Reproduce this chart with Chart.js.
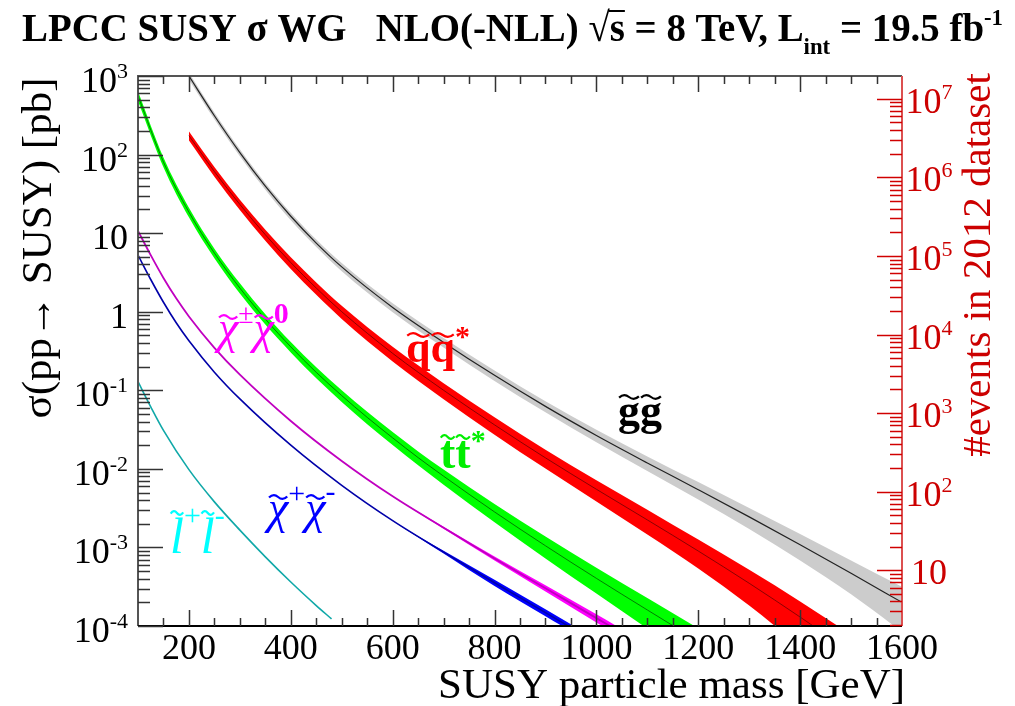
<!DOCTYPE html>
<html>
<head>
<meta charset="utf-8">
<script src="https://cdn.jsdelivr.net/npm/chart.js@4.4.1/dist/chart.umd.min.js"></script>
<style>
  html, body { margin: 0; padding: 0; background: #fff; }
  canvas { display: block; }
</style>
</head>
<body>
<canvas id="c" width="1015" height="706"></canvas>
<script>
// integrated luminosity, pb^-1 (19.5 fb^-1) -> right axis = sigma * LUMI
const LUMI = 19500;

// gluino pair (g~g~), grey band; unc = band half-width in %
const massGluino = [200, 250, 300, 350, 400, 450, 500, 600, 700, 800, 900, 1000, 1100, 1200, 1300, 1400, 1500, 1600];
const xsecGluino = [1000, 312, 106, 39.6, 16.4, 7.48, 3.72, 1.135, 0.407, 0.155, 0.0624, 0.0266, 0.0119, 0.00543, 0.00245, 0.00108, 0.000468, 0.0002];
const uncGluino  = [10, 10, 10, 10, 11, 11, 12, 13, 14, 15, 16, 18, 21, 25, 30, 37, 46, 58];

// squark-antisquark (q~q~*), red band
const massSquark = [200, 250, 300, 350, 400, 450, 500, 600, 700, 800, 900, 1000, 1100, 1200, 1300, 1400, 1450, 1500];
const xsecSquark = [174, 60.8, 23.2, 9.55, 4.22, 2.0, 1.0, 0.295, 0.1, 0.0363, 0.0138, 0.0055, 0.00224, 0.0009, 0.00035, 0.00013, 0.000078, 0.000047];
const uncSquark  = [13, 14, 15, 16, 17, 18, 19, 21, 23, 25, 27, 30, 35, 40, 48, 58, 62, 66];

// stop pair (t~t~*), green band
const massStop = [100, 150, 200, 250, 300, 350, 400, 450, 500, 550, 600, 650, 700, 800, 900, 1000, 1100, 1200];
const xsecStop = [560, 80.3, 18.5, 5.57, 2.0, 0.807, 0.357, 0.169, 0.0856, 0.0452, 0.0248, 0.0139, 0.00807, 0.00283, 0.00105, 0.000404, 0.00016, 0.000064];
const uncStop  = [14, 14, 14, 14, 15, 15, 15, 16, 17, 18, 19, 20, 22, 26, 31, 36, 42, 46];

// chargino-neutralino (chi+-chi0), magenta
const massC1N2 = [100, 125, 150, 175, 200, 250, 300, 400, 500, 600, 700, 800, 900, 1000, 1050];
const xsecC1N2 = [10.7, 5.25, 2.69, 1.48, 0.871, 0.347, 0.158, 0.0407, 0.0126, 0.00447, 0.00178, 0.000724, 0.000302, 0.000126, 0.0000813];
const uncC1N2  = [0, 0, 0, 0, 0, 0, 0, 0, 0, 0, 3, 6, 9, 12, 12];

// chargino pair (chi+chi-), blue
const massC1C1 = [100, 125, 150, 175, 200, 250, 300, 400, 500, 600, 700, 800, 900, 950];
const xsecC1C1 = [5.25, 2.57, 1.32, 0.724, 0.427, 0.17, 0.0776, 0.02, 0.00617, 0.00219, 0.000871, 0.000355, 0.000148, 0.0000955];
const uncC1C1  = [0, 0, 0, 0, 0, 0, 0, 0, 0, 0, 4, 9, 10, 10];

// slepton pair (l~+l~-), teal
const massSlep = [100, 125, 150, 200, 250, 300, 350, 400, 450, 480];
const xsecSlep = [0.129, 0.0617, 0.0309, 0.00977, 0.0038, 0.00166, 0.000759, 0.000363, 0.000182, 0.000123];

const xTicks = [200, 400, 600, 800, 1000, 1200, 1400, 1600];
const yDecades = [-4, -3, -2, -1, 0, 1, 2, 3];
const evDecades = [1, 2, 3, 4, 5, 6, 7];

const SERIF = '"Liberation Serif", "Times New Roman", serif';

function pts(m, v) { return m.map((x, i) => ({ x: x, y: v[i] })); }
function band(m, v, u, s) { return m.map((x, i) => ({ x: x, y: v[i] * (1 + s * u[i] / 100) })); }

function bandSets(m, v, u, color, order) {
  return [
    { data: band(m, v, u, -1), borderWidth: 0, pointRadius: 0, fill: false, order: order, cubicInterpolationMode: 'monotone' },
    { data: band(m, v, u, 1), borderWidth: 0, pointRadius: 0, fill: '-1', backgroundColor: color, order: order, cubicInterpolationMode: 'monotone' }
  ];
}
function lineSet(m, v, color, w, order) {
  return { data: pts(m, v), borderColor: color, borderWidth: w, pointRadius: 0, fill: false, order: order, cubicInterpolationMode: 'monotone' };
}

const datasets = [
  ...bandSets(massGluino, xsecGluino, uncGluino, '#cccccc', 20),
  ...bandSets(massSquark, xsecSquark, uncSquark, '#ff0000', 19),
  ...bandSets(massStop, xsecStop, uncStop, '#00ff00', 18),
  ...bandSets(massC1N2, xsecC1N2, uncC1N2, '#ff00ff', 17),
  ...bandSets(massC1C1, xsecC1C1, uncC1C1, '#0000ff', 16),
  lineSet(massGluino, xsecGluino, '#222222', 1.2, 10),
  lineSet(massSquark, xsecSquark, 'rgba(90,0,0,0.7)', 1, 9),
  lineSet(massStop, xsecStop, 'rgba(0,70,0,0.7)', 1, 8),
  lineSet(massC1N2, xsecC1N2, '#c000c0', 1.8, 7),
  lineSet(massC1C1, xsecC1C1, '#0000a8', 1.6, 6),
  lineSet(massSlep, xsecSlep, '#10a8a8', 1.6, 5)
];

// draw text made of pieces {t, f, dy, tilde, over}
function tilde(ctx, x0, x1, y, lw) {
  const w = x1 - x0, a = Math.max(2, w * 0.09);
  ctx.save();
  ctx.lineWidth = lw;
  ctx.strokeStyle = ctx.fillStyle;
  ctx.beginPath();
  ctx.moveTo(x0, y + a * 0.3);
  ctx.quadraticCurveTo(x0 + w * 0.25, y - 2 * a, x0 + w * 0.5, y);
  ctx.quadraticCurveTo(x0 + w * 0.75, y + 2 * a, x1, y - a * 0.3);
  ctx.stroke();
  ctx.restore();
}
function rich(ctx, parts, x, y, align) {
  let w = 0;
  parts.forEach(p => { ctx.font = p.f; w += ctx.measureText(p.t).width; });
  let cx = align === 'right' ? x - w : align === 'center' ? x - w / 2 : x;
  parts.forEach(p => {
    ctx.font = p.f;
    const m = ctx.measureText(p.t);
    const by = y + (p.dy || 0);
    ctx.fillText(p.t, cx, by);
    if (p.tilde) tilde(ctx, cx + m.width * 0.05, cx + m.width * 0.95, by - m.actualBoundingBoxAscent - p.tilde, 2.2);
    if (p.over) {
      ctx.save(); ctx.lineWidth = 2; ctx.strokeStyle = ctx.fillStyle;
      ctx.beginPath(); ctx.moveTo(cx - 1, by - p.over); ctx.lineTo(cx + m.width, by - p.over); ctx.stroke();
      ctx.restore();
    }
    cx += m.width;
  });
  return w;
}
function decadeParts(e, big, small) {
  if (e === 0) return [{ t: '1', f: big }];
  if (e === 1) return [{ t: '10', f: big }];
  return [{ t: '10', f: big }, { t: String(e), f: small, dy: -14 }];
}

const frame = {
  id: 'frame',
  afterDatasetsDraw(chart) {
    const ctx = chart.ctx;
    const a = chart.chartArea;
    const xs = chart.scales.x, ys = chart.scales.y, ev = chart.scales.y2;
    ctx.save();
    ctx.textBaseline = 'alphabetic';

    // frame
    ctx.lineWidth = 2;
    ctx.strokeStyle = '#555';
    ctx.beginPath();
    ctx.moveTo(a.right, a.top); ctx.lineTo(a.left, a.top); ctx.lineTo(a.left, a.bottom);
    ctx.stroke();
    ctx.strokeStyle = '#000';
    ctx.beginPath(); ctx.moveTo(a.left, a.bottom); ctx.lineTo(a.right, a.bottom); ctx.stroke();

    // x ticks (bottom and top, inward)
    ctx.lineWidth = 1.5;
    ctx.strokeStyle = '#333';
    for (let m = 150; m < 1600; m += 50) {
      const px = Math.round(xs.getPixelForValue(m)) + 0.5;
      const len = m % 200 === 0 ? 16 : 8;
      ctx.beginPath();
      ctx.moveTo(px, a.bottom); ctx.lineTo(px, a.bottom - len);
      ctx.moveTo(px, a.top); ctx.lineTo(px, a.top + len);
      ctx.stroke();
    }
    // left y ticks
    for (let e = -4; e <= 3; e++) {
      for (let k = 1; k <= 9; k++) {
        if (e === 3 && k > 1) break;
        const py = Math.round(ys.getPixelForValue(k * Math.pow(10, e))) + 0.5;
        const len = k === 1 ? 25 : 12;
        ctx.beginPath(); ctx.moveTo(a.left, py); ctx.lineTo(a.left + len, py); ctx.stroke();
      }
    }
    // right axis (events)
    ctx.strokeStyle = 'rgb(220,80,80)';
    ctx.lineWidth = 2;
    ctx.beginPath(); ctx.moveTo(a.right, a.top); ctx.lineTo(a.right, a.bottom); ctx.stroke();
    ctx.lineWidth = 1.5;
    ctx.strokeStyle = '#d00000';
    for (let e = 0; e <= 7; e++) {
      for (let k = 1; k <= 9; k++) {
        const val = k * Math.pow(10, e);
        if (val < ev.min || val > ev.max) continue;
        const py = Math.round(ev.getPixelForValue(val)) + 0.5;
        const len = k === 1 ? 25 : 12;
        ctx.beginPath(); ctx.moveTo(a.right, py); ctx.lineTo(a.right - len, py); ctx.stroke();
      }
    }

    // tick labels
    const big = '36px ' + SERIF, small = '22px ' + SERIF;
    ctx.fillStyle = '#000';
    yDecades.forEach(e => {
      const py = ys.getPixelForValue(Math.pow(10, e));
      rich(ctx, decadeParts(e, big, small), 128, py + 16, 'right');
    });
    ctx.font = big;
    ctx.textAlign = 'center';
    xTicks.forEach(m => ctx.fillText(String(m), xs.getPixelForValue(m), 659));
    ctx.textAlign = 'left';
    ctx.fillStyle = '#cc0000';
    evDecades.forEach(e => {
      const py = ev.getPixelForValue(Math.pow(10, e));
      rich(ctx, decadeParts(e, big, small), 929, py + 14, 'center');
    });

    // axis titles
    ctx.fillStyle = '#000';
    ctx.font = '43px ' + SERIF;
    ctx.textAlign = 'right';
    ctx.fillText('SUSY particle mass [GeV]', 905, 698);
    ctx.textAlign = 'center';
    ctx.save();
    ctx.translate(51, 248); ctx.rotate(-Math.PI / 2);
    ctx.fillText('\u03c3(pp\u2192 SUSY) [pb]', 0, 0);
    ctx.restore();
    ctx.save();
    ctx.fillStyle = '#cc0000';
    ctx.font = '41px ' + SERIF;
    ctx.translate(990, 265); ctx.rotate(-Math.PI / 2);
    ctx.fillText('#events in 2012 dataset', 0, 0);
    ctx.restore();
    ctx.textAlign = 'left';

    // title
    const tb = 'bold 41px ' + SERIF, ts = 'bold 24px ' + SERIF;
    const tparts = [
      { t: 'LPCC SUSY \u03c3 WG   NLO(-NLL) \u221A', f: tb },
      { t: 's', f: tb, over: 30 },
      { t: ' = 8 TeV, L', f: tb },
      { t: 'int', f: ts, dy: 13 },
      { t: ' = 19.5 fb', f: tb },
      { t: '-1', f: ts, dy: -16 }
    ];
    let tw = 0;
    tparts.forEach(p => { ctx.font = p.f; tw += ctx.measureText(p.t).width; });
    ctx.save();
    ctx.translate(22, 41);
    ctx.scale(981 / tw, 1);
    rich(ctx, tparts, 0, 0, 'left');
    ctx.restore();

    // curve labels
    const qf = 'bold 44px ' + SERIF;
    ctx.fillStyle = '#ff0000';
    rich(ctx, [{ t: 'q', f: qf, tilde: 5 }, { t: 'q', f: qf, tilde: 5 }, { t: '*', f: 'bold 30px ' + SERIF, dy: -16 }], 406, 362, 'left');
    ctx.fillStyle = '#000';
    rich(ctx, [{ t: 'g', f: qf, tilde: 5 }, { t: 'g', f: qf, tilde: 5 }], 618, 425, 'left');
    ctx.fillStyle = '#00ee00';
    const tf = 'bold 46px ' + SERIF;
    rich(ctx, [{ t: 't', f: tf, tilde: 4 }, { t: 't', f: tf, tilde: 4 }, { t: '*', f: 'bold 30px ' + SERIF, dy: -18 }], 440, 468, 'left');
    const cf = 'italic 46px ' + SERIF;
    ctx.fillStyle = '#ff00ff';
    rich(ctx, [{ t: '\u03c7', f: cf, tilde: 5 }, { t: '\u00b1', f: '28px ' + SERIF, dy: -20 }, { t: '\u03c7', f: cf, tilde: 5 }, { t: '0', f: 'bold 30px ' + SERIF, dy: -20 }], 218, 343, 'left');
    ctx.fillStyle = '#0000ff';
    rich(ctx, [{ t: '\u03c7', f: cf, tilde: 5 }, { t: '+', f: '30px ' + SERIF, dy: -20 }, { t: '\u03c7', f: cf, tilde: 5 }, { t: '-', f: '30px ' + SERIF, dy: -22 }], 268, 523, 'left');
    ctx.fillStyle = '#00ffff';
    const lf = 'italic 50px ' + SERIF;
    rich(ctx, [{ t: 'l', f: lf, tilde: 4 }, { t: '+', f: '30px ' + SERIF, dy: -28 }, { t: 'l', f: lf, tilde: 4 }, { t: '-', f: '30px ' + SERIF, dy: -28 }], 170, 553, 'left');

    ctx.restore();
  }
};

new Chart(document.getElementById('c'), {
  type: 'line',
  data: { datasets: datasets },
  options: {
    responsive: false,
    animation: false,
    devicePixelRatio: 1,
    layout: { padding: { left: 138, right: 113, top: 76, bottom: 80 } },
    plugins: { legend: { display: false }, tooltip: { enabled: false } },
    scales: {
      x: { type: 'linear', min: 100, max: 1600, display: false },
      y: { type: 'logarithmic', min: 1e-4, max: 1e3, display: false },
      y2: { type: 'logarithmic', min: 1e-4 * LUMI, max: 1e3 * LUMI, display: false, position: 'right' }
    }
  },
  plugins: [frame]
});
</script>
</body>
</html>
